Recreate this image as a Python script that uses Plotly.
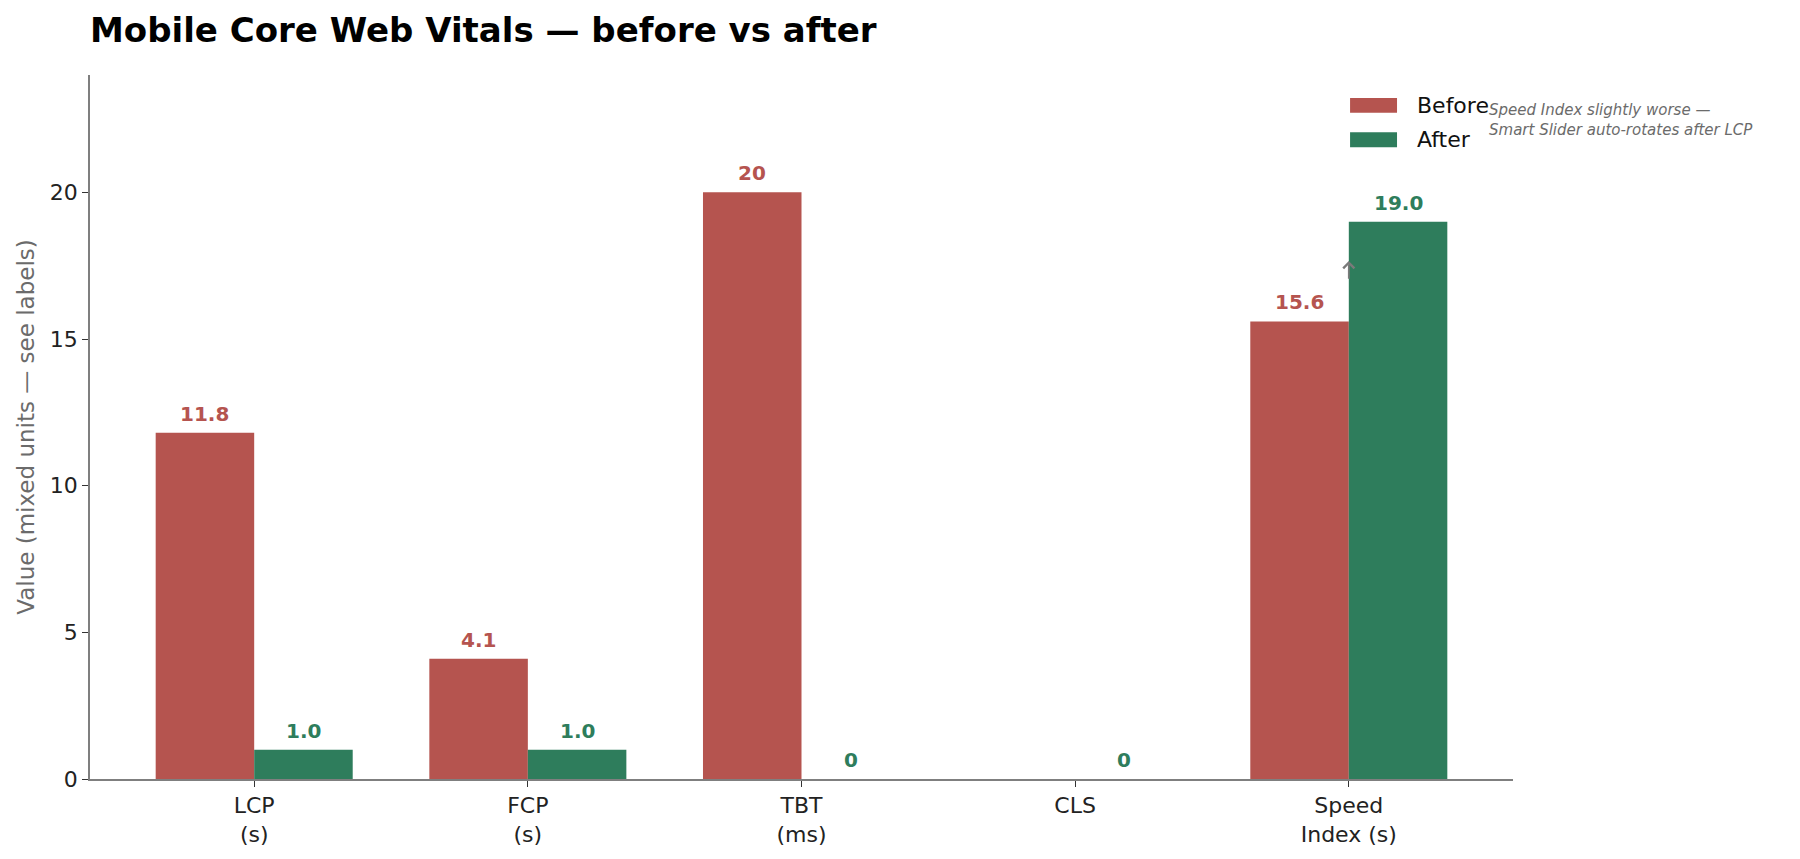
import plotly.graph_objects as go

categories = ["LCP<br>(s)", "FCP<br>(s)", "TBT<br>(ms)", "CLS", "Speed<br>Index (s)"]
before_values = [11.8, 4.1, 20, None, 15.6]
after_values = [1.0, 1.0, 0, 0, 19.0]
before_labels = ["11.8", "4.1", "20", "", "15.6"]
after_labels = ["1.0", "1.0", "0", "0", "19.0"]
y_ticks = [0, 5, 10, 15, 20]

RED = "#b5544f"
GREEN = "#2e7d5c"
GRAY = "#6b6b6b"
FONT = "DejaVu Sans"
BAR_W = 0.36

fig = go.Figure()
fig.add_trace(go.Bar(
    x=categories, y=before_values, name="Before",
    marker=dict(color=RED, line=dict(width=0)),
    hoverinfo="skip",
))
fig.add_trace(go.Bar(
    x=categories, y=after_values, name="After",
    marker=dict(color=GREEN, line=dict(width=0)),
    hoverinfo="skip",
))

# value labels above bars
for vals, labels, col, off in [(before_values, before_labels, RED, -BAR_W / 2),
                               (after_values, after_labels, GREEN, BAR_W / 2)]:
    for i, (v, lab) in enumerate(zip(vals, labels)):
        if v is None or lab == "":
            continue
        fig.add_annotation(
            x=i + off, y=v, xref="x", yref="y", text="<b>%s</b>" % lab,
            showarrow=False, xanchor="center", yanchor="middle", yshift=19,
            font=dict(family=FONT, size=20, color=col),
        )

fig.update_layout(
    width=1800, height=859,
    margin=dict(l=90, r=287, t=75, b=78),
    paper_bgcolor="white", plot_bgcolor="white",
    barmode="group", bargap=1 - 2 * BAR_W, bargroupgap=0,
    showlegend=False,
    font=dict(family=FONT, size=22, color="#222222"),
    title=dict(
        text="<b>Mobile Core Web Vitals — before vs after</b>",
        x=90 / 1800, xref="container", xanchor="left",
        y=1 - 30 / 859, yref="container", yanchor="middle",
        font=dict(family=FONT, size=34, color="#000000"),
    ),
    xaxis=dict(
        type="category", range=[-0.6, 4.6],
        showline=True, linecolor="#7f7f7f", linewidth=1.5,
        ticks="outside", ticklen=6, tickcolor="#333333", tickwidth=1.2,
        showgrid=False, zeroline=False,
        tickfont=dict(family=FONT, size=22, color="#222222"),
    ),
    yaxis=dict(
        range=[0, 24], tickvals=y_ticks,
        showline=True, linecolor="#7f7f7f", linewidth=1.5,
        ticks="outside", ticklen=6, tickcolor="#333333", tickwidth=1.2,
        showgrid=False, zeroline=False,
        tickfont=dict(family=FONT, size=22, color="#222222"),
        title=dict(text="Value (mixed units — see labels)", standoff=9,
                   font=dict(family=FONT, size=23, color=GRAY)),
    ),
)

# manual legend (wide rectangular swatches)
legend_items = [("Before", RED, 0.9674, 0.9463, 0.9560), ("After", GREEN, 0.9187, 0.8975, 0.9090)]
for name, col, y1, y0, yt in legend_items:
    fig.add_shape(type="rect", xref="paper", yref="paper",
                  x0=0.8855, x1=0.9185, y0=y0, y1=y1,
                  fillcolor=col, line=dict(width=0))
    fig.add_annotation(xref="paper", yref="paper", x=0.9311, y=yt,
                       text=name, showarrow=False, xanchor="left", yanchor="middle",
                       font=dict(family=FONT, size=22, color="#111111"))

# note annotation
fig.add_annotation(
    xref="paper", yref="paper", x=0.9817, y=0.936,
    text="<i>Speed Index slightly worse —<br>Smart Slider auto-rotates after LCP</i>",
    showarrow=False, xanchor="left", yanchor="middle", align="left",
    font=dict(family=FONT, size=15, color=GRAY),
)
# small arrow
fig.add_annotation(
    x=4, y=17.66, ax=4, ay=17.0,
    xref="x", yref="y", axref="x", ayref="y",
    text="", showarrow=True, arrowhead=4, arrowsize=1.2, arrowwidth=1.8,
    arrowcolor="#7a7a7a",
)

fig.write_html("out.html")
